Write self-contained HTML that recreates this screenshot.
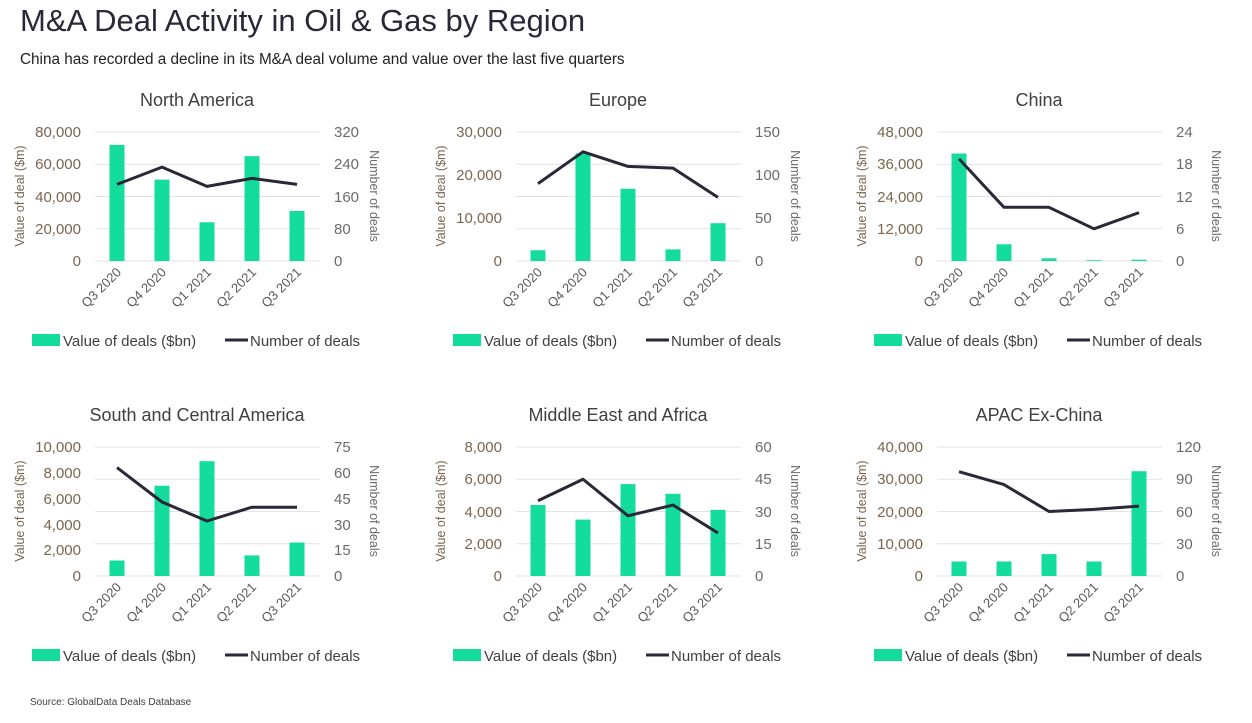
<!DOCTYPE html>
<html><head><meta charset="utf-8"><style>
body{margin:0;background:#fff;width:1252px;height:718px;overflow:hidden;font-family:"Liberation Sans",sans-serif}
svg text{font-family:"Liberation Sans",sans-serif}
.g{stroke:#e3e3e3;stroke-width:1}
.b{fill:#14dc9c}
.ln{fill:none;stroke:#2a2838;stroke-width:3;stroke-linejoin:round}
.tl{font-size:15px;fill:#7a6650;text-anchor:end}
.tr{font-size:15px;fill:#6b6b6b}
.xl{font-size:13px;fill:#595959;text-anchor:end}
.t{font-size:18px;fill:#404040;text-anchor:middle}
.lg{font-size:15px;fill:#404040}
.at{font-size:12.5px;fill:#7a6650;text-anchor:middle}
</style></head><body>
<svg width="1252" height="718" xmlns="http://www.w3.org/2000/svg">
<defs>
<g id="frame">
<line class="g" x1="95" x2="320" y1="132" y2="132"/><line class="g" x1="95" x2="320" y1="164.25" y2="164.25"/>
<line class="g" x1="95" x2="320" y1="196.5" y2="196.5"/><line class="g" x1="95" x2="320" y1="228.75" y2="228.75"/>
<line class="g" x1="95" x2="320" y1="261" y2="261"/>
<text class="xl" transform="translate(122,273) rotate(-45)">Q3 2020</text>
<text class="xl" transform="translate(167,273) rotate(-45)">Q4 2020</text>
<text class="xl" transform="translate(212,273) rotate(-45)">Q1 2021</text>
<text class="xl" transform="translate(257,273) rotate(-45)">Q2 2021</text>
<text class="xl" transform="translate(302,273) rotate(-45)">Q3 2021</text>
<text class="at" transform="translate(24,196) rotate(-90)">Value of deal ($m)</text>
<text class="at" transform="translate(370,196) rotate(90)" style="fill:#6b6b6b">Number of deals</text>
<rect x="32" y="334" width="28" height="12" class="b"/><text class="lg" x="63" y="346">Value of deals ($bn)</text>
<line x1="225" x2="248" y1="340" y2="340" stroke="#2a2838" stroke-width="3"/><text class="lg" x="250" y="346">Number of deals</text>
</g>
</defs>
<text x="20" y="31" style="font-size:31px;fill:#2a2838">M&amp;A Deal Activity in Oil &amp; Gas by Region</text>
<text x="20" y="64" style="font-size:15.3px;fill:#222">China has recorded a decline in its M&amp;A deal volume and value over the last five quarters</text>
<text x="30" y="705" style="font-size:10px;fill:#404040">Source: GlobalData Deals Database</text>

<g transform="translate(0,0)"><use href="#frame"/>
<text class="t" x="197" y="106">North America</text>
<text class="tl" x="81" y="137">80,000</text><text class="tl" x="81" y="169">60,000</text><text class="tl" x="81" y="202">40,000</text><text class="tl" x="81" y="234">20,000</text><text class="tl" x="81" y="266">0</text>
<text class="tr" x="334" y="137">320</text><text class="tr" x="334" y="169">240</text><text class="tr" x="334" y="202">160</text><text class="tr" x="334" y="234">80</text><text class="tr" x="334" y="266">0</text>
<rect class="b" x="109.5" y="144.9" width="15" height="116.1"/><rect class="b" x="154.5" y="179.6" width="15" height="81.4"/><rect class="b" x="199.5" y="222.3" width="15" height="38.7"/><rect class="b" x="244.5" y="156.2" width="15" height="104.8"/><rect class="b" x="289.5" y="211" width="15" height="50"/>
<polyline class="ln" points="117,184.4 162,167.1 207,186.4 252,178.4 297,184.4"/></g>

<g transform="translate(421,0)"><use href="#frame"/>
<text class="t" x="197" y="106">Europe</text>
<text class="tl" x="81" y="137">30,000</text><text class="tl" x="81" y="180">20,000</text><text class="tl" x="81" y="223">10,000</text><text class="tl" x="81" y="266">0</text>
<text class="tr" x="334" y="137">150</text><text class="tr" x="334" y="180">100</text><text class="tr" x="334" y="223">50</text><text class="tr" x="334" y="266">0</text>
<rect class="b" x="109.5" y="250.25" width="15" height="10.75"/><rect class="b" x="154.5" y="153.5" width="15" height="107.5"/><rect class="b" x="199.5" y="188.8" width="15" height="72.2"/><rect class="b" x="244.5" y="249.4" width="15" height="11.6"/><rect class="b" x="289.5" y="223.2" width="15" height="37.8"/>
<polyline class="ln" points="117,183.6 162,151.8 207,166.4 252,168.1 297,197.4"/></g>

<g transform="translate(842,0)"><use href="#frame"/>
<text class="t" x="197" y="106">China</text>
<text class="tl" x="81" y="137">48,000</text><text class="tl" x="81" y="169">36,000</text><text class="tl" x="81" y="202">24,000</text><text class="tl" x="81" y="234">12,000</text><text class="tl" x="81" y="266">0</text>
<text class="tr" x="334" y="137">24</text><text class="tr" x="334" y="169">18</text><text class="tr" x="334" y="202">12</text><text class="tr" x="334" y="234">6</text><text class="tr" x="334" y="266">0</text>
<rect class="b" x="109.5" y="153.5" width="15" height="107.5"/><rect class="b" x="154.5" y="244.3" width="15" height="16.7"/><rect class="b" x="199.5" y="258.3" width="15" height="2.7"/><rect class="b" x="244.5" y="260.2" width="15" height="0.8"/><rect class="b" x="289.5" y="259.7" width="15" height="1.3"/>
<polyline class="ln" points="117,158.9 162,207.3 207,207.3 252,228.8 297,212.6"/></g>

<g transform="translate(0,315)"><use href="#frame"/>
<text class="t" x="197" y="106">South and Central America</text>
<text class="tl" x="81" y="137">10,000</text><text class="tl" x="81" y="163">8,000</text><text class="tl" x="81" y="189">6,000</text><text class="tl" x="81" y="215">4,000</text><text class="tl" x="81" y="240">2,000</text><text class="tl" x="81" y="266">0</text>
<text class="tr" x="334" y="137">75</text><text class="tr" x="334" y="163">60</text><text class="tr" x="334" y="189">45</text><text class="tr" x="334" y="215">30</text><text class="tr" x="334" y="240">15</text><text class="tr" x="334" y="266">0</text>
<rect class="b" x="109.5" y="245.5" width="15" height="15.5"/><rect class="b" x="154.5" y="170.7" width="15" height="90.3"/><rect class="b" x="199.5" y="146.2" width="15" height="114.8"/><rect class="b" x="244.5" y="240.4" width="15" height="20.6"/><rect class="b" x="289.5" y="227.5" width="15" height="33.5"/>
<polyline class="ln" points="117,152.6 162,187 207,206 252,192.2 297,192.2"/></g>

<g transform="translate(421,315)"><use href="#frame"/>
<text class="t" x="197" y="106">Middle East and Africa</text>
<text class="tl" x="81" y="137">8,000</text><text class="tl" x="81" y="169">6,000</text><text class="tl" x="81" y="202">4,000</text><text class="tl" x="81" y="234">2,000</text><text class="tl" x="81" y="266">0</text>
<text class="tr" x="334" y="137">60</text><text class="tr" x="334" y="169">45</text><text class="tr" x="334" y="202">30</text><text class="tr" x="334" y="234">15</text><text class="tr" x="334" y="266">0</text>
<rect class="b" x="109.5" y="190" width="15" height="71"/><rect class="b" x="154.5" y="204.6" width="15" height="56.4"/><rect class="b" x="199.5" y="169.1" width="15" height="91.9"/><rect class="b" x="244.5" y="178.8" width="15" height="82.2"/><rect class="b" x="289.5" y="194.9" width="15" height="66.1"/>
<polyline class="ln" points="117,185.75 162,164.25 207,200.8 252,190.05 297,218"/></g>

<g transform="translate(842,315)"><use href="#frame"/>
<text class="t" x="197" y="106">APAC Ex-China</text>
<text class="tl" x="81" y="137">40,000</text><text class="tl" x="81" y="169">30,000</text><text class="tl" x="81" y="202">20,000</text><text class="tl" x="81" y="234">10,000</text><text class="tl" x="81" y="266">0</text>
<text class="tr" x="334" y="137">120</text><text class="tr" x="334" y="169">90</text><text class="tr" x="334" y="202">60</text><text class="tr" x="334" y="234">30</text><text class="tr" x="334" y="266">0</text>
<rect class="b" x="109.5" y="246.5" width="15" height="14.5"/><rect class="b" x="154.5" y="246.5" width="15" height="14.5"/><rect class="b" x="199.5" y="239.1" width="15" height="21.9"/><rect class="b" x="244.5" y="246.5" width="15" height="14.5"/><rect class="b" x="289.5" y="156.2" width="15" height="104.8"/>
<polyline class="ln" points="117,156.7 162,169.6 207,196.5 252,194.4 297,191.1"/></g>
</svg>
</body></html>
